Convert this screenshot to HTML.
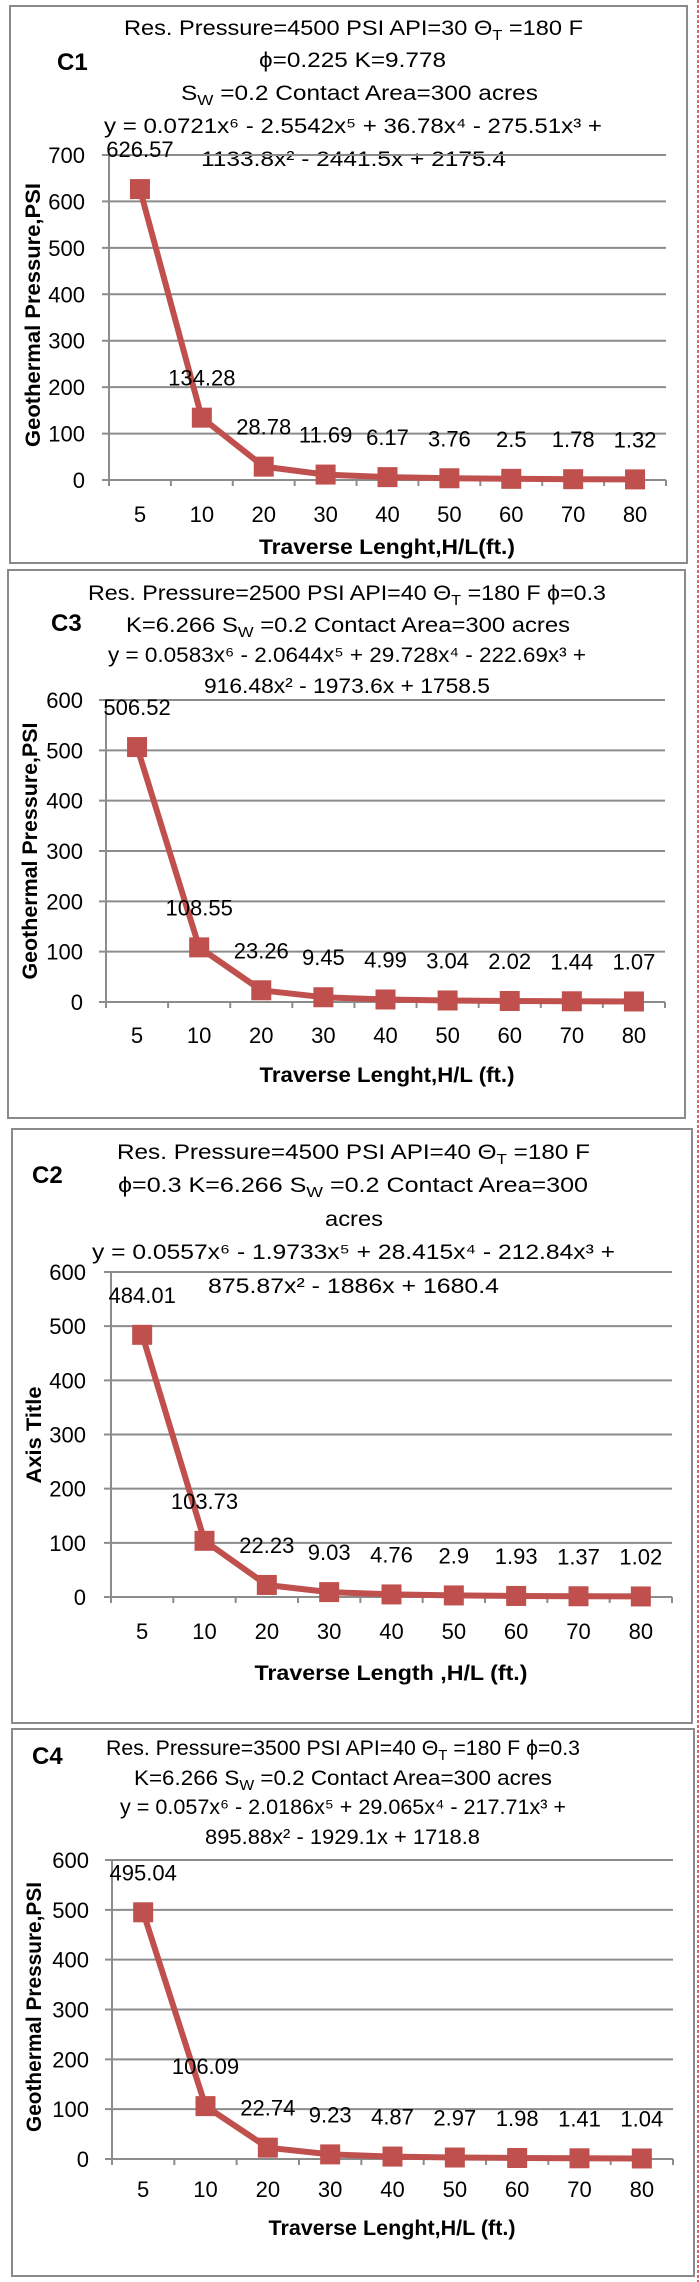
<!DOCTYPE html>
<html><head><meta charset="utf-8">
<style>
html,body{margin:0;padding:0;background:#fff;}
svg{display:block;font-family:"Liberation Sans",sans-serif;}
</style></head>
<body>
<svg id="root" width="700" height="2282" viewBox="0 0 700 2282" xmlns="http://www.w3.org/2000/svg">
<line x1="698" y1="0" x2="698" y2="2282" stroke="#d03030" stroke-width="1.5" stroke-dasharray="3,2"/>
</svg>
<script>
// ---- data ----
const categories = ["5","10","20","30","40","50","60","70","80"];
const c1Values = [626.57,134.28,28.78,11.69,6.17,3.76,2.5,1.78,1.32];
const c3Values = [506.52,108.55,23.26,9.45,4.99,3.04,2.02,1.44,1.07];
const c2Values = [484.01,103.73,22.23,9.03,4.76,2.9,1.93,1.37,1.02];
const c4Values = [495.04,106.09,22.74,9.23,4.87,2.97,1.98,1.41,1.04];
const c1Ticks = [0,100,200,300,400,500,600,700];
const c3Ticks = [0,100,200,300,400,500,600];
const c2Ticks = [0,100,200,300,400,500,600];
const c4Ticks = [0,100,200,300,400,500,600];

const NS = "http://www.w3.org/2000/svg";
const root = document.getElementById('root');
function mk(tag, attrs, parent){
  const e = document.createElementNS(NS, tag);
  for (const k in attrs) e.setAttribute(k, attrs[k]);
  (parent||root).appendChild(e);
  return e;
}
function richText(parent, x, y, len, size, parts){
  const t = mk('text', {x:x, y:y, 'font-size':size, fill:'#000', textLength:len, lengthAdjust:'spacingAndGlyphs'}, parent);
  parts.forEach(p=>{
    const s = document.createElementNS(NS,'tspan');
    if (typeof p === 'string'){ s.textContent = p; }
    else { s.textContent = p.sub; s.setAttribute('font-size', size*0.7); s.setAttribute('dy', 5); }
    t.appendChild(s);
    if (typeof p !== 'string'){
      // reset baseline
      s.dataset.sub = '1';
    }
  });
  // fix baselines after subs
  const spans = t.querySelectorAll('tspan');
  for (let i=1;i<spans.length;i++){ if (spans[i-1].dataset.sub && !spans[i].dataset.sub) spans[i].setAttribute('dy',-5); }
  return t;
}

const charts = [
 {id:'c1', values:c1Values, ticks:c1Ticks, max:700,
  box:[10,6,677,557], label:'C1', labelXY:[57,70],
  plot:{l:109,r:666,t:155,b:480}, tickLabelX:85, xLabY:522, xTitle:'Traverse Lenght,H/L(ft.)', xTitleY:554, xTitleW:256,
  yTitle:'Geothermal Pressure,PSI', yTitleXY:[32,315], yTitleW:264,
  title:[
   {x:124,y:35,w:459,p:['Res. Pressure=4500 PSI API=30 Θ',{sub:'T'},'  =180 F']},
   {x:259,y:67,w:187,p:['ϕ=0.225 K=9.778']},
   {x:181,y:100,w:357,p:['S',{sub:'W'},'  =0.2 Contact Area=300 acres']},
   {x:104,y:133,w:498,p:['y = 0.0721x⁶ - 2.5542x⁵ + 36.78x⁴ - 275.51x³ +']},
   {x:201,y:166,w:305,p:['1133.8x² - 2441.5x + 2175.4']}]},
 {id:'c3', values:c3Values, ticks:c3Ticks, max:600,
  box:[8,570,677,548], label:'C3', labelXY:[51,631],
  plot:{l:106,r:665,t:700,b:1002}, tickLabelX:83, xLabY:1043, xTitle:'Traverse Lenght,H/L (ft.)', xTitleY:1082, xTitleW:255,
  yTitle:'Geothermal Pressure,PSI', yTitleXY:[29,851], yTitleW:257,
  title:[
   {x:88,y:600,w:518,p:['Res. Pressure=2500 PSI API=40 Θ',{sub:'T'},'  =180 F ϕ=0.3']},
   {x:126,y:632,w:444,p:['K=6.266 S',{sub:'W'},'  =0.2 Contact Area=300 acres']},
   {x:108,y:662,w:478,p:['y = 0.0583x⁶ - 2.0644x⁵ + 29.728x⁴ - 222.69x³ +']},
   {x:204,y:693,w:286,p:['916.48x² - 1973.6x + 1758.5']}]},
 {id:'c2', values:c2Values, ticks:c2Ticks, max:600,
  box:[12,1129,680,594], label:'C2', labelXY:[32,1183],
  plot:{l:111,r:672,t:1272,b:1597}, tickLabelX:86, xLabY:1639, xTitle:'Traverse Length ,H/L (ft.)', xTitleY:1680, xTitleW:273,
  yTitle:'Axis Title', yTitleXY:[33,1435], yTitleW:97,
  title:[
   {x:117,y:1159,w:473,p:['Res. Pressure=4500 PSI API=40 Θ',{sub:'T'},'   =180 F']},
   {x:118,y:1192,w:470,p:['ϕ=0.3 K=6.266 S',{sub:'W'},'  =0.2 Contact Area=300']},
   {x:325,y:1226,w:58,p:['acres']},
   {x:92,y:1259,w:523,p:['y = 0.0557x⁶ - 1.9733x⁵ + 28.415x⁴ - 212.84x³ +']},
   {x:208,y:1293,w:291,p:['875.87x² - 1886x + 1680.4']}]},
 {id:'c4', values:c4Values, ticks:c4Ticks, max:600,
  box:[12,1729,682,547], label:'C4', labelXY:[32,1764],
  plot:{l:112,r:673,t:1860,b:2159}, tickLabelX:89, xLabY:2197, xTitle:'Traverse Lenght,H/L (ft.)', xTitleY:2235, xTitleW:247,
  yTitle:'Geothermal Pressure,PSI', yTitleXY:[33,2007], yTitleW:250,
  title:[
   {x:106,y:1755,w:474,p:['Res. Pressure=3500 PSI API=40 Θ',{sub:'T'},'  =180 F ϕ=0.3']},
   {x:134,y:1785,w:418,p:['K=6.266   S',{sub:'W'},'  =0.2 Contact Area=300 acres']},
   {x:120,y:1814,w:446,p:['y = 0.057x⁶ - 2.0186x⁵ + 29.065x⁴ - 217.71x³ +']},
   {x:205,y:1844,w:275,p:['895.88x² - 1929.1x + 1718.8']}]}
];

charts.forEach(c=>{
  const g = mk('g', {});
  
  
  const b = mk('rect', {x:c.box[0], y:c.box[1], width:c.box[2], height:c.box[3], fill:'#fff', stroke:'#8a8a8a', 'stroke-width':2}, g);
  
  
  const lab = mk('text', {x:c.labelXY[0], y:c.labelXY[1], 'font-size':24, 'font-weight':'bold', fill:'#000'}, g);
  lab.textContent = c.label;
  
  
  const tg = mk('g', {}, g);
  
  
  c.title.forEach(l=>richText(tg, l.x, l.y, l.w, 21, l.p));

  const P = c.plot;
  const n = categories.length;
  const step = (P.r - P.l)/n;
  const xPos = i => P.l + step*(i+0.5);
  const yPos = v => P.b - (v / c.max) * (P.b - P.t);

  // gridlines + y ticks
  c.ticks.forEach(t=>{
    const y = yPos(t);
    const gl = mk('line', {x1:P.l-7, x2:P.r, y1:y, y2:y, stroke:'#8c8c8c', 'stroke-width':2}, g);
    
    
    const tl = mk('text', {x:c.tickLabelX, y:y+8, 'font-size':22, 'text-anchor':'end', fill:'#000'}, g);
    tl.textContent = t;
    
    
  });
  // axes
  const ya = mk('line', {x1:P.l, x2:P.l, y1:P.t, y2:P.b+6, stroke:'#8c8c8c', 'stroke-width':2}, g);
  
  
  for (let i=0;i<=n;i++){
    const x = P.l + step*i;
    const tk = mk('line', {x1:x, x2:x, y1:P.b, y2:P.b+6, stroke:'#8c8c8c', 'stroke-width':2}, g);
    
    
  }
  categories.forEach((cat,i)=>{
    const t = mk('text', {x:xPos(i), y:c.xLabY, 'font-size':22, 'text-anchor':'middle', fill:'#000'}, g);
    t.textContent = cat;
    
    
  });
  const xt = mk('text', {x:(P.l+P.r)/2 + 0, y:c.xTitleY, 'font-size':21, 'font-weight':'bold', 'text-anchor':'middle', fill:'#000', textLength:c.xTitleW, lengthAdjust:'spacingAndGlyphs'}, g);
  xt.setAttribute('x', (c.id==='c4') ? 392 : (c.id==='c2' ? 391 : 387));
  xt.textContent = c.xTitle;
  
  
  const yt = mk('text', {x:0, y:0, 'font-size':21, 'font-weight':'bold', 'text-anchor':'middle', fill:'#000', textLength:c.yTitleW, lengthAdjust:'spacingAndGlyphs', transform:`translate(${c.yTitleXY[0]+8},${c.yTitleXY[1]}) rotate(-90)`}, g);
  yt.textContent = c.yTitle;
  
  

  // series line
  const pts = c.values.map((v,i)=>xPos(i).toFixed(1)+','+yPos(v).toFixed(1)).join(' ');
  const pl = mk('polyline', {points:pts, fill:'none', stroke:'#C0504D', 'stroke-width':6, 'stroke-linejoin':'round'}, g);
  
  
  c.values.forEach((v,i)=>{
    const m = mk('rect', {x:xPos(i)-10, y:yPos(v)-10, width:20, height:20, fill:'#C0504D'}, g);
    
    
    const dl = mk('text', {x:xPos(i), y:yPos(v)-32, 'font-size':22, 'text-anchor':'middle', fill:'#000'}, g);
    dl.textContent = v;
    
    
  });
});
</script>
</body></html>
